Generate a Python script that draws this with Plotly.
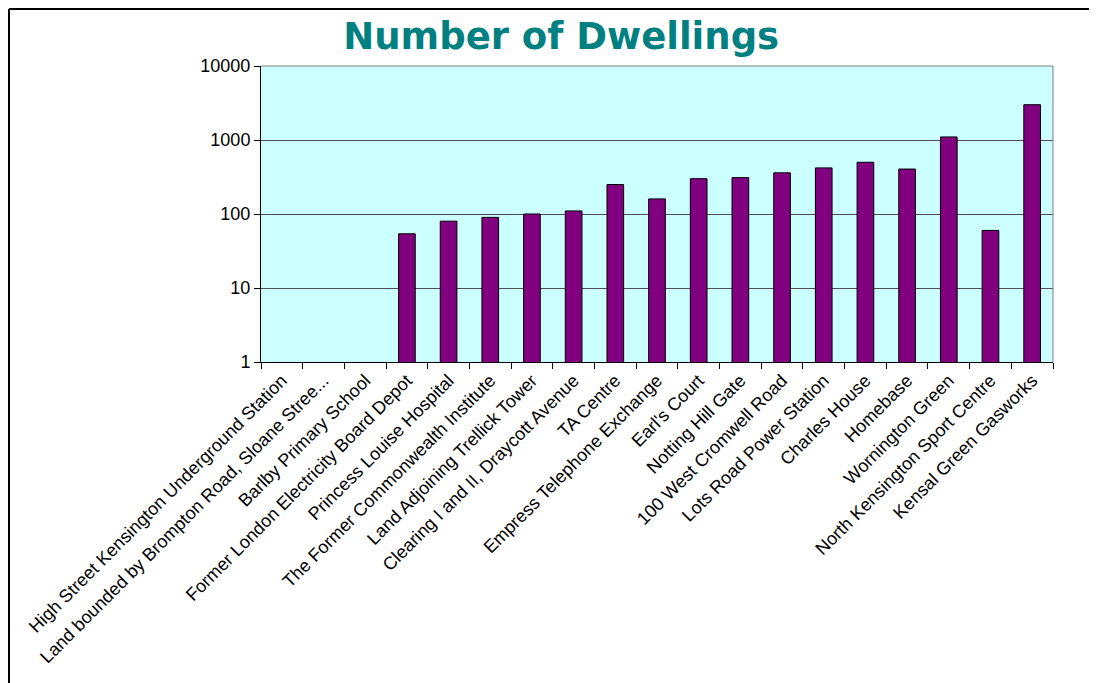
import plotly.graph_objects as go

# sites and number of dwellings
sites = [
    "High Street Kensington Underground Station",
    "Land bounded by Brompton Road, Sloane Stree...",
    "Barlby Primary School",
    "Former London Electricity Board Depot",
    "Princess Louise Hospital",
    "The Former Commonwealth Institute",
    "Land Adjoining Trellick Tower",
    "Clearing I and II, Draycott Avenue",
    "TA Centre",
    "Empress Telephone Exchange",
    "Earl's Court",
    "Notting Hill Gate",
    "100 West Cromwell Road",
    "Lots Road Power Station",
    "Charles House",
    "Homebase",
    "Wornington Green",
    "North Kensington Sport Centre",
    "Kensal Green Gasworks",
]
dwellings = [None, None, None, 54, 80, 90, 100, 110, 250, 160,
             300, 310, 360, 420, 500, 405, 1100, 60, 3000]

y_ticks = [1, 10, 100, 1000, 10000]

fig = go.Figure()
fig.add_trace(go.Bar(
    x=sites, y=dwellings,
    marker=dict(color="#800080", line=dict(color="black", width=1)),
))

font = "Arial, Liberation Sans, sans-serif"

# page has an 8px body margin, so the figure is a bit smaller than the window
fig.update_layout(
    width=1089, height=675,
    margin=dict(l=253, r=44, t=58, b=321),
    paper_bgcolor="white",
    plot_bgcolor="#CCFFFF",
    bargap=0.6,
    showlegend=False,
    title=dict(text="<b>Number of Dwellings</b>", x=0.508, xanchor="center",
               y=0.958, yanchor="middle",
               font=dict(family="DejaVu Sans", size=37, color="#008080")),
    font=dict(family=font, size=18, color="black"),
)
fig.update_xaxes(
    tickangle=-45, tickson="boundaries", ticks="outside", ticklen=6,
    tickcolor="black", showline=True, linecolor="black", linewidth=1,
    showgrid=False, tickfont=dict(size=18), automargin=False,
)
fig.update_yaxes(
    type="log", range=[0, 4], tickvals=y_ticks,
    ticktext=[str(v) for v in y_ticks],
    ticks="outside", ticklen=6, tickcolor="black",
    showline=True, linecolor="black", linewidth=1,
    showgrid=True, gridcolor="#505050", gridwidth=1,
    tickfont=dict(size=18), zeroline=False, automargin=False,
)

# gray frame on top/right of plot area
fig.add_shape(type="line", xref="paper", yref="paper", x0=0, x1=1, y0=1, y1=1,
              line=dict(color="#808080", width=1))
fig.add_shape(type="line", xref="paper", yref="paper", x0=1, x1=1, y0=0, y1=1,
              line=dict(color="#808080", width=1))
# outer chart border (left and top edges visible)
fig.add_shape(type="line", xref="paper", yref="paper", x0=-0.3182, x1=-0.3182,
              y0=-1.1, y1=1.1926, line=dict(color="black", width=2))
fig.add_shape(type="line", xref="paper", yref="paper", x0=-0.3182, x1=1.1,
              y0=1.1926, y1=1.1926, line=dict(color="black", width=2))

fig.write_html("out.html")
